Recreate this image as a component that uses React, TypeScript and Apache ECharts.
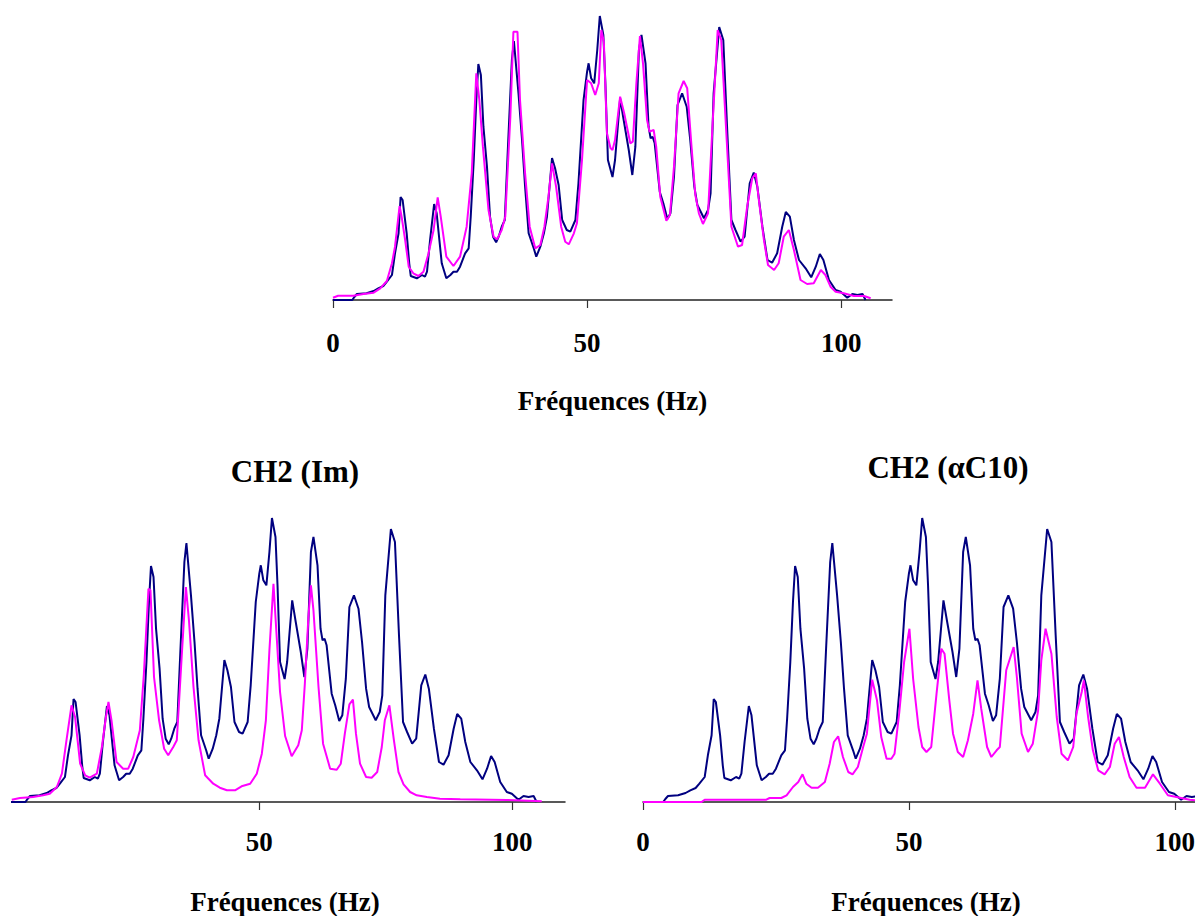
import React, { useEffect, useRef } from "react";
import * as echarts from "echarts";

// Frequencies (Hz) and intensities (arbitrary units).
const experimental: [number, number][] = [
  [0, 0], [3.8, 0], [4.2, 3], [4.7, 6], [6.6, 6.7], [8.0, 9], [8.9, 11.7], [9.9, 14], [10.6, 18.3],
  [11.6, 25], [12.2, 46.7], [12.9, 66.7], [13.3, 103], [13.7, 100], [14.5, 66.7], [15.0, 36.7],
  [15.3, 24], [16.5, 21.7], [17.5, 25], [18.1, 23.3], [18.5, 28.3], [19.1, 60], [19.9, 96],
  [20.4, 86.7], [21.4, 36.7], [22.3, 21.7], [23.1, 25], [23.7, 28.3], [24.4, 28.3], [25.0, 33.3],
  [26.0, 46.7], [26.7, 51.7], [27.1, 83.3], [27.7, 140], [28.2, 200], [28.6, 236], [29.1, 225],
  [29.6, 173.3], [30.3, 133.3], [30.9, 83.3], [31.5, 63.3], [32.1, 57.7], [32.6, 63.3], [33.2, 73.3],
  [33.8, 80], [34.4, 150], [35.2, 240], [35.6, 259], [36.5, 206.7], [37.2, 160], [37.8, 113.3],
  [38.5, 66.7], [39.5, 51.7], [40.0, 43.3], [40.8, 53.3], [41.5, 66.7], [42.1, 83.3], [43.1, 142],
  [43.7, 131.7], [44.4, 115], [45.1, 80], [46.0, 70], [46.7, 68.3], [47.7, 80], [48.3, 116.7],
  [49.3, 200], [50.0, 228.3], [50.3, 236.7], [50.8, 221.7], [51.4, 216.7], [52.0, 250], [52.5, 284],
  [53.2, 265], [53.6, 216.7], [54.1, 140], [55.0, 123], [55.5, 140], [56.5, 201.7], [57.2, 180],
  [58.2, 150], [58.9, 125], [59.5, 153.3], [60.2, 250], [60.7, 265], [61.5, 236.7], [62.1, 173.3],
  [62.5, 161.7], [62.9, 163.3], [63.3, 156.7], [64.3, 108.3], [65.0, 96.7], [65.8, 81], [66.4, 86.7],
  [67.1, 123.3], [67.8, 195], [68.7, 206.7], [69.6, 193.3], [70.3, 160], [71.1, 113.3], [71.7, 95],
  [73.0, 81.7], [73.8, 90], [74.3, 106.7], [74.9, 206.7], [76.0, 273], [76.8, 260], [77.6, 166.7],
  [78.4, 80], [79.2, 70], [80.2, 58.3], [81.0, 63.3], [82.0, 116.7], [82.8, 127.5], [83.5, 113.3],
  [84.5, 73.3], [85.5, 40], [86.4, 37.3], [87.4, 46.7], [88.4, 73.3], [89.1, 88], [89.9, 83.3],
  [90.7, 60], [91.7, 40], [93.0, 31.7], [94.1, 22.7], [95.0, 33.3], [95.8, 46], [96.5, 40],
  [97.6, 20], [98.9, 10], [99.9, 8.3], [101.2, 2.3], [102.2, 6], [103.2, 5], [104.2, 6], [104.8, 0],
];

const simulatedTotal: [number, number][] = [
  [0, 2.3], [1.0, 4.3], [4.0, 4.3], [6.0, 6], [8.0, 7.3], [9.3, 11.7], [10.6, 19], [11.6, 36.7],
  [12.2, 53.3], [13.1, 94], [13.5, 83.3], [14.2, 60], [14.9, 33.3], [15.8, 26.7], [16.8, 24],
  [17.8, 28.3], [18.8, 46.7], [19.8, 70], [20.6, 102.7], [21.2, 83.3], [22.3, 43.3], [23.7, 34],
  [25.0, 43.3], [26.3, 73.3], [27.3, 126.7], [28.2, 226.7], [28.8, 200], [29.5, 153.3], [30.6, 90],
  [31.6, 63.3], [32.3, 60.7], [33.2, 70], [33.9, 83.3], [34.9, 183.3], [35.5, 268.3], [36.3, 268.3],
  [36.8, 200], [37.8, 126.7], [38.7, 73.3], [39.8, 51.7], [40.8, 55], [41.6, 73.3], [42.4, 103.3],
  [43.1, 136.7], [43.9, 113.3], [44.9, 73.3], [45.7, 58.3], [46.4, 55.7], [47.4, 66.7], [48.0, 76.7],
  [49.0, 140], [50.0, 220], [50.8, 216.7], [51.6, 205], [52.3, 216.7], [52.8, 270], [53.3, 258],
  [53.9, 166.7], [54.6, 152], [55.0, 150], [55.5, 160], [56.5, 203.3], [57.3, 186.7], [58.5, 156.7],
  [59.0, 158.3], [59.7, 216.7], [60.4, 264], [61.0, 236.7], [61.8, 180], [62.3, 168.3], [63.1, 170],
  [63.6, 153.3], [64.4, 103.3], [65.6, 79.3], [66.3, 85], [67.1, 133.3], [68.0, 206.7], [69.0, 219],
  [69.7, 211.7], [70.5, 156.7], [71.3, 105], [72.0, 86.7], [72.8, 76], [73.8, 86.7], [74.6, 166.7],
  [75.7, 270], [76.4, 260], [77.4, 166.7], [78.4, 73.3], [79.7, 53.3], [80.5, 55], [81.5, 93.3],
  [82.5, 121.7], [83.2, 126.7], [83.8, 100], [84.8, 60], [85.6, 35], [86.8, 30], [87.7, 36.7],
  [88.7, 63.3], [89.7, 70], [90.7, 50], [92.0, 20], [93.3, 16], [94.6, 16.7], [96.0, 30], [96.9, 25],
  [97.9, 13.3], [98.9, 8.3], [100.5, 6.7], [102.5, 4], [104.5, 4], [105.8, 1.7],
];

const simulatedIm: [number, number][] = [
  [1.1, 2.3], [2.7, 4], [5.3, 5], [7.3, 6.7], [8.6, 8.3], [10.0, 15], [11.0, 28.3], [11.9, 61.7],
  [12.9, 96.7], [13.6, 85], [14.6, 38.3], [15.6, 26.7], [16.5, 24.3], [17.9, 28.3], [18.9, 55],
  [19.7, 85], [20.2, 100], [20.8, 81.7], [21.8, 40], [23.1, 33.3], [24.1, 33.3], [25.1, 45],
  [26.4, 71.7], [27.2, 128.3], [28.1, 213.3], [28.5, 211.7], [29.2, 125], [30.2, 81.7], [31.2, 53.3],
  [32.0, 46.7], [33.0, 55], [33.7, 61.7], [34.7, 148.3], [35.5, 215], [36.1, 181.7], [37.0, 115],
  [38.0, 61.7], [39.3, 26.7], [40.9, 18.3], [42.2, 14.3], [43.6, 11.7], [45.2, 11.7], [46.5, 15.7],
  [48.2, 18.3], [49.5, 28.3], [50.5, 48.3], [51.3, 81.7], [52.0, 151.7], [52.8, 218.3], [53.4, 168.3],
  [54.1, 110], [55.1, 66], [56.4, 45.7], [57.7, 56.7], [58.4, 71.7], [59.0, 118.3], [59.7, 185],
  [60.2, 216.7], [60.7, 191.7], [61.7, 115], [62.6, 58.3], [64.0, 33.3], [65.3, 32.3], [66.1, 38.3],
  [66.9, 68.3], [67.8, 97.7], [68.5, 102.3], [69.1, 68.3], [69.9, 38.3], [71.1, 25], [72.2, 24.3],
  [73.3, 30], [74.2, 55], [74.8, 81.7], [75.7, 96.7], [76.6, 61.7], [77.5, 30], [78.5, 17.7],
  [79.8, 10], [81.1, 6.7], [83.1, 5], [85.7, 3.3], [89.7, 2.7], [98.9, 2], [105.8, 0.7],
];

const simulatedAlphaC10: [number, number][] = [
  [0, 0], [11.0, 0], [11.6, 2.3], [23.2, 2.3], [23.8, 4], [26.0, 4], [27.0, 6.7], [28.2, 15],
  [29.2, 20], [30.0, 27.7], [30.7, 18.3], [31.7, 14.3], [32.9, 14.3], [34.2, 20], [35.1, 38.3],
  [35.9, 60], [36.7, 65.7], [37.6, 45], [38.6, 30], [39.4, 27.7], [40.4, 35], [41.4, 55], [42.1, 68.3],
  [43.1, 122.3], [44.0, 101.7], [44.8, 65], [45.8, 43.3], [46.7, 43.3], [47.3, 48.3], [48.2, 90],
  [49.1, 140], [50.1, 173.3], [50.8, 123], [51.8, 75], [52.5, 55], [53.3, 50], [54.2, 55],
  [55.2, 108.3], [56.1, 153.3], [56.7, 148.3], [57.6, 101.7], [58.3, 68.3], [59.2, 50], [60.2, 45],
  [61.1, 61.7], [62.1, 88.3], [62.9, 121.7], [63.6, 93.3], [64.7, 55], [65.5, 45], [66.5, 51.7],
  [67.1, 55], [68.3, 131.7], [69.7, 155], [70.3, 125], [71.2, 68.3], [72.4, 50], [73.3, 58.3],
  [74.3, 91.7], [74.9, 141.7], [75.7, 173.3], [76.8, 148.3], [77.8, 85], [78.7, 48.3], [79.9, 41.7],
  [80.9, 55], [81.5, 88.3], [82.5, 110], [82.9, 121.7], [83.7, 85], [84.6, 51.7], [85.6, 31.7],
  [86.8, 27.7], [87.8, 35], [88.7, 58.3], [89.5, 65], [90.4, 45], [91.5, 25], [92.8, 14.3],
  [94.4, 14.3], [95.9, 27.7], [97.2, 18.3], [98.7, 6.7], [100.3, 5], [102.8, 2.3], [104.5, 1.5],
];

const panelTitles = ["", "CH2 (Im)", "CH2 (\u03b1C10)"];
const axisTitle = "Fréquences (Hz)";
const tickValues = [0, 50, 100];
const tickValuesLeft = [50, 100];

const FONT = '"Liberation Serif", "Times New Roman", serif';
const BLUE = "#000080";
const MAGENTA = "#FF00FF";

export default function App() {
  const ref = useRef<HTMLDivElement>(null);

  useEffect(() => {
    if (!ref.current) return;
    const chart = echarts.init(ref.current, undefined, { renderer: "svg" });

    const grids = [
      { left: 333, width: 559, top: 10, height: 290, outerBoundsMode: "none" },
      { left: 12, width: 553, top: 512, height: 290, outerBoundsMode: "none" },
      { left: 643, width: 552, top: 512, height: 290, outerBoundsMode: "none" },
    ];
    const ranges = [
      [0, 110],
      [1.14, 110.4],
      [0, 103.8],
    ];
    const labelMargins = [29, 26, 26];
    const nameGaps = [87, 86, 86];
    const namePads = [
      [0, 0, 0, 0],
      [0, 7, 0, 0],
      [0, 0, 0, 14],
    ];
    const ticks = [tickValues, tickValuesLeft, tickValues];

    const xAxis = grids.map((_, i) => ({
      type: "value",
      gridIndex: i,
      min: ranges[i][0],
      max: ranges[i][1],
      name: axisTitle,
      nameLocation: "middle",
      nameGap: nameGaps[i],
      nameTextStyle: {
        fontFamily: FONT,
        fontSize: 27,
        fontWeight: "bold",
        color: "#000",
        padding: namePads[i],
      },
      splitLine: { show: false },
      axisLine: { show: true, lineStyle: { color: "#222", width: 1.5 } },
      axisTick: {
        show: true,
        inside: false,
        length: 8,
        customValues: ticks[i],
        lineStyle: { color: "#333", width: 1.2 },
      },
      axisLabel: {
        show: true,
        customValues: ticks[i],
        margin: labelMargins[i],
        fontFamily: FONT,
        fontSize: 27,
        fontWeight: "bold",
        color: "#000",
      },
    }));

    const yAxis = grids.map((_, i) => ({
      type: "value",
      gridIndex: i,
      min: 0,
      max: 290,
      show: false,
      splitLine: { show: false },
    }));

    const mk = (name: string, data: [number, number][], idx: number, color: string, z: number) => ({
      name,
      type: "line",
      xAxisIndex: idx,
      yAxisIndex: idx,
      data,
      showSymbol: false,
      symbol: "none",
      clip: true,
      z,
      lineStyle: { color, width: 2 },
      itemStyle: { color },
    });

    chart.setOption({
      animation: false,
      backgroundColor: "#fff",
      title: [
        {
          text: panelTitles[1],
          left: 290,
          top: 451,
          textAlign: "center",
          textStyle: { fontFamily: FONT, fontSize: 31, fontWeight: "bold", color: "#000" },
        },
        {
          text: panelTitles[2],
          left: 943,
          top: 447,
          textAlign: "center",
          textStyle: { fontFamily: FONT, fontSize: 31, fontWeight: "bold", color: "#000" },
        },
      ],
      grid: grids,
      xAxis,
      yAxis,
      series: [
        mk("Expérimental", experimental, 0, BLUE, 2),
        mk("Simulé", simulatedTotal, 0, MAGENTA, 3),
        mk("Expérimental", experimental, 1, BLUE, 2),
        mk("CH2 (Im)", simulatedIm, 1, MAGENTA, 3),
        mk("Expérimental", experimental, 2, BLUE, 2),
        mk("CH2 (αC10)", simulatedAlphaC10, 2, MAGENTA, 3),
      ],
    });

    return () => chart.dispose();
  }, []);

  return (
    <div
      ref={ref}
      style={{ position: "absolute", left: 0, top: 0, width: 1195, height: 916 }}
    />
  );
}
